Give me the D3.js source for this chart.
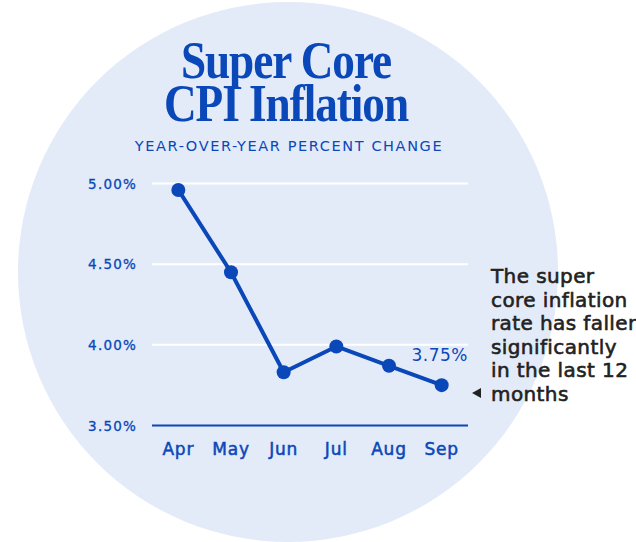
<!DOCTYPE html>
<html>
<head>
<meta charset="utf-8">
<script src="https://cdn.jsdelivr.net/npm/d3@7"></script>
<style>
  body { margin: 0; background: #fff; }
  svg { display: block; }
</style>
</head>
<body>
<svg id="canvas" width="636" height="542"></svg>
<script>
let months = ['Apr', 'May', 'Jun', 'Jul', 'Aug', 'Sep'];
let rates = [4.96, 4.45, 3.83, 3.99, 3.87, 3.75];
let yTicks = [3.5, 4.0, 4.5, 5.0];
let titleLines = ['Super Core', 'CPI Inflation'];
let noteLines = ['The super', 'core inflation', 'rate has fallen', 'significantly', 'in the last 12', 'months'];

let blue = '#0a47b8';
let sans = 'DejaVu Sans, sans-serif';
let canvas = d3.select('#canvas');

// background disc
canvas.append('circle')
    .attr('cx', 288)
    .attr('cy', 272)
    .attr('r', 270)
    .attr('fill', '#e3ebf8');

// title, slightly condensed serif
canvas.selectAll('.title')
    .data(titleLines)
    .enter()
    .append('text')
    .attr('class', 'title')
    .attr('transform', (d, i) => 'translate(286,' + (78 + i * 43) + ') scale(0.87,1)')
    .attr('text-anchor', 'middle')
    .attr('font-family', 'Liberation Serif, serif')
    .attr('font-weight', 'bold')
    .attr('font-size', 52)
    .attr('letter-spacing', -1.2)
    .attr('fill', blue)
    .text(d => d);

canvas.append('text')
    .attr('x', 289)
    .attr('y', 151)
    .attr('text-anchor', 'middle')
    .attr('font-family', sans)
    .attr('font-size', 14.5)
    .attr('letter-spacing', 1.6)
    .attr('fill', blue)
    .text('YEAR-OVER-YEAR PERCENT CHANGE');

let xScale = d3.scalePoint()
    .domain(months)
    .range([152, 468])
    .padding(0.5);

let yScale = d3.scaleLinear()
    .domain([3.5, 5.0])
    .range([425.5, 183.5]);

// grid
canvas.selectAll('.grid')
    .data(yTicks.filter(d => d > 3.5))
    .enter()
    .append('line')
    .attr('class', 'grid')
    .attr('x1', 152)
    .attr('x2', 468)
    .attr('y1', d => yScale(d))
    .attr('y2', d => yScale(d))
    .attr('stroke', '#fff')
    .attr('stroke-width', 2);

canvas.append('line')
    .attr('x1', 152)
    .attr('x2', 468)
    .attr('y1', yScale(3.5))
    .attr('y2', yScale(3.5))
    .attr('stroke', blue)
    .attr('stroke-width', 2);

// y labels
canvas.selectAll('.ylabel')
    .data(yTicks)
    .enter()
    .append('text')
    .attr('class', 'ylabel')
    .attr('x', 137)
    .attr('y', d => yScale(d) + 5)
    .attr('text-anchor', 'end')
    .attr('font-family', sans)
    .attr('font-size', 13.5)
    .attr('letter-spacing', 1.2)
    .attr('stroke', blue)
    .attr('stroke-width', 0.3)
    .attr('fill', blue)
    .text(d => d.toFixed(2) + '%');

// x labels
canvas.selectAll('.xlabel')
    .data(months)
    .enter()
    .append('text')
    .attr('class', 'xlabel')
    .attr('x', d => xScale(d))
    .attr('y', 455)
    .attr('text-anchor', 'middle')
    .attr('font-family', sans)
    .attr('font-size', 17)
    .attr('letter-spacing', 0.8)
    .attr('stroke', blue)
    .attr('stroke-width', 0.5)
    .attr('fill', blue)
    .text(d => d);

// line + dots
let line = d3.line()
    .x((d, i) => xScale(months[i]))
    .y(d => yScale(d));

canvas.append('path')
    .datum(rates)
    .attr('d', line)
    .attr('fill', 'none')
    .attr('stroke', blue)
    .attr('stroke-width', 4)
    .attr('stroke-linejoin', 'round');

canvas.selectAll('.dot')
    .data(rates)
    .enter()
    .append('circle')
    .attr('class', 'dot')
    .attr('cx', (d, i) => xScale(months[i]))
    .attr('cy', d => yScale(d))
    .attr('r', 7)
    .attr('fill', blue);

// last value label
canvas.append('text')
    .attr('x', 468)
    .attr('y', yScale(rates[5]) - 24)
    .attr('text-anchor', 'end')
    .attr('font-family', sans)
    .attr('font-size', 17)
    .attr('letter-spacing', 0.5)
    .attr('fill', blue)
    .text(rates[5].toFixed(2) + '%');

// annotation
let note = canvas.append('text')
    .attr('font-family', sans)
    .attr('font-size', 20)
    .attr('letter-spacing', 0.4)
    .attr('stroke', '#222')
    .attr('stroke-width', 0.6)
    .attr('fill', '#222');
note.selectAll('tspan')
    .data(noteLines)
    .enter()
    .append('tspan')
    .attr('x', 491)
    .attr('y', (d, i) => 283 + i * 23.5)
    .text(d => d);

canvas.append('path')
    .attr('d', 'M472,393 L481,388 L481,398 Z')
    .attr('fill', '#222');
</script>
</body>
</html>
